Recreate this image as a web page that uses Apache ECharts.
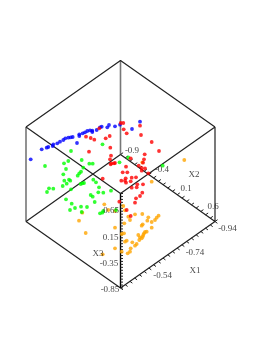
<!DOCTYPE html>
<html><head><meta charset="utf-8">
<style>html,body{margin:0;padding:0;background:#fff}#c{width:277px;height:358px}</style>
<script src="https://cdn.jsdelivr.net/npm/echarts@6/dist/echarts.min.js"></script></head>
<body><div id="c"></div>
<script>
// Projected positions (horizontal, vertical) of each group
const blue=[[30.7,159.3],[41.7,149.3],[46.7,147.7],[48.3,147],[52.7,146],[53.3,144.3],[57.3,143.3],[60,141.7],[63.3,140],[65.3,138.3],[68.3,137.7],[70.7,137.3],[72.7,137],[77,143],[79.3,134.3],[79.3,136],[82.7,133.3],[85,132.3],[87.3,131],[90,130.3],[92.3,132],[92.3,130.7],[96.7,130],[100,127.3],[101.7,126.7],[107.3,127.3],[109,125],[115,126.3],[120,124.7],[132,129],[140,121.7]];
const red=[[120.7,123],[123.3,123],[123.7,129.3],[126.7,133.3],[99.3,128.3],[86,136.7],[90.7,138],[94.3,139.7],[105.7,138.3],[109.7,136],[110.3,147.7],[89,151.7],[111,155.7],[110,159.3],[115,163],[140,125.7],[141,135],[151.7,142],[159,151],[144.7,154.3],[144,159.3],[130.7,158.3],[143,162.7],[126,166.7],[138.7,165.7],[141.7,168],[145,168.3],[141.7,170.7],[148.3,173.3],[122.7,172.3],[127.3,172.3],[131.7,177.7],[136,177.3],[125.7,178.3],[121.3,180.7],[125,180.7],[126,182.7],[130.7,181.3],[137.3,184.3],[143,184.3],[131.7,187.7],[136.7,187.3],[142.3,192.7],[140,196],[136,198.3],[135,202.7],[119.3,201.7],[111.3,163.3],[114,163.3],[130.7,216],[126.7,210],[102.7,178.7],[110.7,164.3]];
const green=[[102.5,144.3],[71,151],[81.7,160],[68.3,161],[64,163.3],[45,166],[89.3,163.7],[92.7,163.7],[66,169],[83.3,167.7],[63.3,174.3],[81,171.7],[79.3,173.3],[77.7,175.7],[64.3,180.7],[69,179.7],[70.3,180.7],[84,183],[82.3,183.3],[80.7,184],[66.7,183.7],[62.7,186],[49,188.3],[53.3,188.7],[47,192],[71,189.3],[93.3,179.7],[96,182.3],[99,187.3],[98.3,192.3],[103.3,192.7],[111,190.7],[90.7,195],[92.7,196.7],[94.7,202],[66,199.3],[71.7,203.7],[75,208],[70,210],[81,206.7],[87,207],[81.7,212],[100,213.3],[102.3,212.7],[103.3,211],[119.5,162.3],[128.3,157.5],[162.7,165.7],[116,210]];
const orange=[[184.3,160],[151.7,181.7],[142.3,162.3],[123.3,206],[125,210.3],[135,214.3],[142.3,214],[130,220],[124.3,223.3],[115,227.7],[148.3,217.3],[147.3,220.7],[155,220],[158.6,215.7],[156.7,217.7],[142.7,224.3],[141.7,225.7],[151.7,227.7],[145,232],[146.7,231.7],[143.3,235],[138.3,235],[140,237.3],[144,233.3],[104.3,204.3],[115,211],[82.3,212.7],[124,233.3],[142.7,236.7],[141.7,238.3],[139.3,240],[132.3,242.3],[126.7,240.7],[125,241.7],[136.7,244],[135,245.7],[130.7,248.3],[130,251.7],[127.7,253.3],[115,248.3],[121.7,251.7],[85.7,233],[102.7,254.3],[108.3,210],[79,220.7],[128.3,216.7],[121.7,234],[151.7,222]];
// Axis tick labels and titles
const x1Ticks=['-0.94','-0.74','-0.54'];
const x2Ticks=['-0.9','-0.4','0.1','0.6'];
const x3Ticks=['0.65','0.15','-0.35','-0.85'];
const axisTitles=['X1','X2','X3'];
const W=277,H=358;
const top_=[120.5,60.5],ul=[26,127],ur=[215,127],ll=[26,221.5],lr=[215,221.5],bot=[120.5,288],c1=[120.5,154.5],c2=[120.5,193.5];
const darkEdges=[[top_,ul],[top_,ur],[ur,lr],[ll,bot],[lr,bot],[c1,ll],[c1,lr],[c2,ul],[c2,ur]];
const axisEdges=[[c2,bot]];
const grayEdges=[[top_,c1],[ul,ll]];
const seg=a=>a.flatMap(e=>[e[0],e[1],[null,null]]);
function ticks(a,b,n,dx,dy){const o=[];for(let i=0;i<=n;i++){const p=[a[0]+(b[0]-a[0])*i/n,a[1]+(b[1]-a[1])*i/n];o.push(p,[p[0]+dx,p[1]+dy],[null,null]);}return o;}
const tickLines=[...ticks(c1,lr,20,2.6,-1.8),...ticks(bot,lr,20,2.4,1.8),...ticks(bot,c2,32,2.5,0)];
const labels=[
 [x2Ticks[0],132,151],[x2Ticks[1],162,170],[x2Ticks[2],186,189],[x2Ticks[3],213,207],
 [x1Ticks[0],227.5,229],[x1Ticks[1],195,252.7],[x1Ticks[2],162.7,276],
 [x3Ticks[0],111,211],[x3Ticks[1],110.7,237.7],[x3Ticks[2],109,264],[x3Ticks[3],110,290],
 [axisTitles[0],195,270.7],[axisTitles[1],194,175],[axisTitles[2],98,254]];
const pts=(name,data,color)=>({name,type:'scatter',data,symbol:'circle',symbolSize:3.8,itemStyle:{color},silent:true,z:3});
const lineS=(data,color,width,z)=>({type:'line',data,connectNulls:false,symbol:'none',silent:true,z,lineStyle:{color,width}});
const chart=echarts.init(document.getElementById('c'),null,{renderer:'canvas'});
chart.setOption({animation:false,backgroundColor:'#fff',
 grid:{left:0,right:0,top:0,bottom:0},
 xAxis:{type:'value',min:0,max:W,show:false},
 yAxis:{type:'value',min:0,max:H,inverse:true,show:false},
 series:[
  lineS(seg(grayEdges),'#777',1.6,1),
  lineS(seg(darkEdges),'#222',1.2,2),
  lineS(seg(axisEdges),'#000',1.4,2),
  lineS(tickLines,'#222',1,2),
  pts('orange',orange,'#ffa500'),pts('green',green,'#00ff00'),pts('blue',blue,'#0000ff'),pts('red',red,'#ff0000'),
  {type:'scatter',data:labels.map(l=>({value:[l[1],l[2]],name:l[0]})),symbolSize:0,silent:true,z:4,
   label:{show:true,position:'inside',formatter:p=>p.name,fontFamily:'"Liberation Serif"',fontSize:9,color:'#111'}}
 ]});
</script></body></html>
